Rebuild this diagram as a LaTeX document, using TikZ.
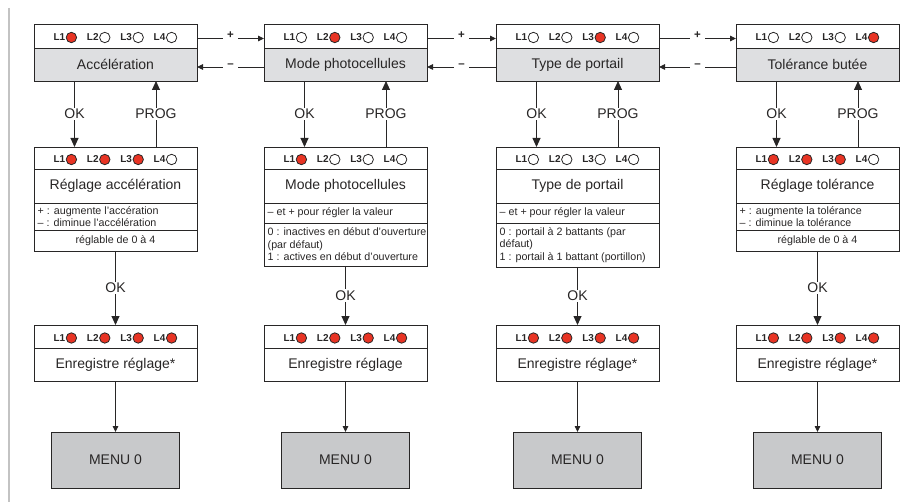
\documentclass[tikz,border=0pt]{standalone}
\usepackage{fontspec}
\setmainfont{Liberation Sans}
\usetikzlibrary{arrows.meta}
\definecolor{hdr}{RGB}{222,223,225}
\definecolor{menugray}{RGB}{200,201,203}
\definecolor{ledred}{RGB}{232,52,36}
\definecolor{ink}{RGB}{40,38,38}
\definecolor{rulegray}{RGB}{195,195,195}
\tikzset{
  strip/.style={draw=ink, line width=0.9pt, minimum width=163pt, anchor=north west, inner sep=0pt, outer sep=0pt, text=ink, font=\fontsize{10.7}{12.6}\selectfont},
  titlebox/.style={strip, font=\fontsize{14}{16}\selectfont},
  hdrbox/.style={titlebox, fill=hdr, minimum height=33pt},
  menubox/.style={draw=ink, line width=0.9pt, fill=menugray, minimum width=128pt, minimum height=56pt, anchor=north, inner sep=0pt, outer sep=0pt, text=ink, font=\fontsize{14}{16}\selectfont},
  smalltxt/.style={anchor=west, align=left, inner sep=0pt, text=ink, font=\fontsize{10.7}{12.6}\selectfont},
  ledlbl/.style={anchor=east, inner sep=0pt, text=ink, font=\bfseries\fontsize{10}{12}\selectfont},
  bigarr/.style={draw=ink, line width=0.9pt, -{Triangle[length=9pt,width=8pt]}},
  smallarr/.style={draw=ink, line width=0.9pt, -{Triangle[length=6pt,width=5.5pt]}},
  lbl/.style={fill=white, inner sep=1.5pt, text=ink, font=\fontsize{14}{16}\selectfont},
  pm/.style={fill=white, inner xsep=4pt, inner ysep=2pt, text=ink, font=\bfseries\fontsize{11.5}{12}\selectfont}
}
\newcommand\ledrow[2]{%
  \foreach \s [count=\k] in {#2}{%
    \ifnum\s=1 \def\ledfill{ledred}\else\def\ledfill{white}\fi
    \node[ledlbl] (#1-L\k) at ([xshift={(\k-2.5)*33.4pt},yshift=-1.5pt]#1.center) {L\k};
    \draw[ink, line width=0.8pt, fill=\ledfill] ([xshift=6pt]#1-L\k.east) circle[radius=5.2pt];
  }}
\begin{document}
\begin{tikzpicture}[x=1pt,y=-1pt]
\useasboundingbox (0,0) rectangle (917,502);
\coordinate (rt) at (9,8);
\coordinate (rb) at (9,502);
\draw[rulegray, line width=1.2pt] (rt) -- (rb);

% ---------- column 1
\node[strip, minimum height=24pt] (t1-led) at (34,24) {};
\node[hdrbox] (t1-title) at (34,48) {Accélération};
\node[strip, minimum height=22pt] (m1-led) at (34,147) {};
\node[titlebox, minimum height=34pt] (m1-title) at (34,169) {Réglage accélération};
\node[strip, minimum height=27pt] (m1-d1) at (34,203) {};
\node[smalltxt] (m1-d1-t) at ([xshift=3.5pt]m1-d1.west) {+ : augmente l’accération\\– : diminue l’accélération};
\node[strip, minimum height=21pt] (m1-d2) at (34,230) {réglable de 0 à 4};
\node[strip, minimum height=23pt] (b1-led) at (34,325) {};
\node[titlebox, minimum height=33pt] (b1-title) at (34,348) {Enregistre réglage*};
\node[menubox] (menu1) at (115.5,432) {MENU 0};
\ledrow{t1-led}{1,0,0,0}
\ledrow{m1-led}{1,1,1,0}
\ledrow{b1-led}{1,1,1,1}

% ---------- column 2
\node[strip, minimum height=24pt] (t2-led) at (264,24) {};
\node[hdrbox] (t2-title) at (264,48) {Mode photocellules};
\node[strip, minimum height=22pt] (m2-led) at (264,147) {};
\node[titlebox, minimum height=34pt] (m2-title) at (264,169) {Mode photocellules};
\node[strip, minimum height=20pt] (m2-d1) at (264,203) {};
\node[smalltxt] (m2-d1-t) at ([xshift=3.5pt]m2-d1.west) {– et + pour régler la valeur};
\node[strip, minimum height=43pt] (m2-d2) at (264,223) {};
\node[smalltxt] (m2-d2-t) at ([xshift=3.5pt]m2-d2.west) {0 : inactives en début d’ouverture\\(par défaut)\\1 : actives en début d’ouverture};
\node[strip, minimum height=23pt] (b2-led) at (264,325) {};
\node[titlebox, minimum height=33pt] (b2-title) at (264,348) {Enregistre réglage};
\node[menubox] (menu2) at (345.5,432) {MENU 0};
\ledrow{t2-led}{0,1,0,0}
\ledrow{m2-led}{1,0,0,0}
\ledrow{b2-led}{1,1,1,1}

% ---------- column 3
\node[strip, minimum height=24pt] (t3-led) at (496,24) {};
\node[hdrbox] (t3-title) at (496,48) {Type de portail};
\node[strip, minimum height=22pt] (m3-led) at (496,147) {};
\node[titlebox, minimum height=34pt] (m3-title) at (496,169) {Type de portail};
\node[strip, minimum height=20pt] (m3-d1) at (496,203) {};
\node[smalltxt] (m3-d1-t) at ([xshift=3.5pt]m3-d1.west) {– et + pour régler la valeur};
\node[strip, minimum height=44pt] (m3-d2) at (496,223) {};
\node[smalltxt] (m3-d2-t) at ([xshift=3.5pt]m3-d2.west) {0 : portail à 2 battants (par\\défaut)\\1 : portail à 1 battant (portillon)};
\node[strip, minimum height=23pt] (b3-led) at (496,325) {};
\node[titlebox, minimum height=33pt] (b3-title) at (496,348) {Enregistre réglage*};
\node[menubox] (menu3) at (577.5,432) {MENU 0};
\ledrow{t3-led}{0,0,1,0}
\ledrow{m3-led}{0,0,0,0}
\ledrow{b3-led}{1,1,1,1}

% ---------- column 4
\node[strip, minimum height=24pt] (t4-led) at (736,24) {};
\node[hdrbox] (t4-title) at (736,48) {Tolérance butée};
\node[strip, minimum height=22pt] (m4-led) at (736,147) {};
\node[titlebox, minimum height=34pt] (m4-title) at (736,169) {Réglage tolérance};
\node[strip, minimum height=27pt] (m4-d1) at (736,203) {};
\node[smalltxt] (m4-d1-t) at ([xshift=3.5pt]m4-d1.west) {+ : augmente la tolérance\\– : diminue la tolérance};
\node[strip, minimum height=21pt] (m4-d2) at (736,230) {réglable de 0 à 4};
\node[strip, minimum height=23pt] (b4-led) at (736,325) {};
\node[titlebox, minimum height=33pt] (b4-title) at (736,348) {Enregistre réglage*};
\node[menubox] (menu4) at (817.5,432) {MENU 0};
\ledrow{t4-led}{0,0,0,1}
\ledrow{m4-led}{1,1,1,0}
\ledrow{b4-led}{1,1,1,1}

% ---------- vertical connectors
\foreach \i in {1,2,3,4}{
  \draw[bigarr] ([xshift=40.5pt]t\i-title.south west) -- node[lbl]{OK} ([xshift=40.5pt]m\i-led.north west);
  \draw[bigarr] ([xshift=122pt]m\i-led.north west) -- node[lbl]{PROG} ([xshift=122pt]t\i-title.south west);
  \draw[bigarr] (m\i-d2.south) -- node[lbl]{OK} (b\i-led.north);
  \draw[smallarr] (b\i-title.south) -- (menu\i.north);
}

% ---------- horizontal connectors
\foreach \a/\b in {1/2,2/3,3/4}{
  \draw[smallarr] ([yshift=-2.5pt]t\a-led.east) -- node[pm, yshift=3pt]{+} ([yshift=-2.5pt]t\b-led.west);
  \draw[smallarr] ([yshift=-2.5pt]t\b-title.west) -- node[pm, yshift=1.5pt]{–} ([yshift=-2.5pt]t\a-title.east);
}
\end{tikzpicture}
\end{document}
